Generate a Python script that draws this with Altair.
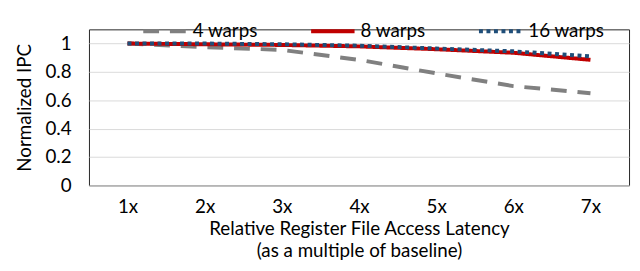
import altair as alt
import pandas as pd

categories = ["1x", "2x", "3x", "4x", "5x", "6x", "7x"]
warps4 = [1.0, 0.975, 0.955, 0.885, 0.79, 0.70, 0.65]
warps8 = [1.0, 0.995, 0.99, 0.98, 0.96, 0.935, 0.885]
warps16 = [1.0, 1.0, 0.995, 0.985, 0.965, 0.945, 0.91]
series_names = ["4 warps", "8 warps", "16 warps"]
y_ticks = [0, 0.2, 0.4, 0.6, 0.8, 1]

rows = []
for name, vals in zip(series_names, [warps4, warps8, warps16]):
    for c, v in zip(categories, vals):
        rows.append({"lat": c, "ipc": v, "series": name})
df = pd.DataFrame(rows)

FONT = "Lato"
FS = 19

color = alt.Color(
    "series:N",
    scale=alt.Scale(domain=series_names, range=["#808080", "#C00000", "#1F4E79"]),
    legend=alt.Legend(
        title=None, orient="none", direction="horizontal",
        legendX=53, legendY=-22,
        symbolType="stroke", symbolSize=1936, symbolStrokeWidth=4,
        labelFont=FONT, labelFontSize=FS, labelColor="#000",
        labelOffset=4, columnPadding=46, padding=0,
    ),
)
dash = alt.StrokeDash(
    "series:N",
    scale=alt.Scale(domain=series_names, range=[[16, 11], [1, 0], [4, 3.6]]),
    legend=None,
)

x = alt.X(
    "lat:O", sort=categories,
    scale=alt.Scale(type="point", padding=0.5),
    axis=alt.Axis(
        title=["Relative Register File Access Latency", "(as a multiple of baseline)"],
        labelAngle=0, ticks=False, domain=False, labelPadding=12,
        labelFont=FONT, labelFontSize=FS, labelColor="#000",
        titleFont=FONT, titleFontSize=FS, titleFontWeight="normal", titleColor="#000",
        titlePadding=4, titleLineHeight=22,
    ),
)
y = alt.Y(
    "ipc:Q",
    scale=alt.Scale(domain=[0, 1.1], nice=False),
    axis=alt.Axis(
        title="Normalized IPC", values=y_ticks, format="~g",
        ticks=False, domain=False, labelPadding=18,
        gridColor="#D9D9D9", gridWidth=1,
        labelFont=FONT, labelFontSize=FS, labelColor="#000",
        titleFont=FONT, titleFontSize=FS, titleFontWeight="normal", titleColor="#000",
        titlePadding=11,
    ),
)

layers = []
for name in series_names:
    layers.append(
        alt.Chart(df)
        .transform_filter(alt.datum.series == name)
        .mark_line(strokeWidth=4, strokeCap="butt")
        .encode(x=x, y=y, color=color, strokeDash=dash)
    )

chart = (
    alt.layer(*layers)
    .properties(
        width=547, height=158,
        autosize=alt.AutoSizeParams(type="none"),
        padding={"left": 82, "top": 20, "right": 3, "bottom": 77},
    )
    .configure_view(stroke="#262626", strokeWidth=1)
)

chart.save("out.html", embed_options={"renderer": "svg", "actions": False})
